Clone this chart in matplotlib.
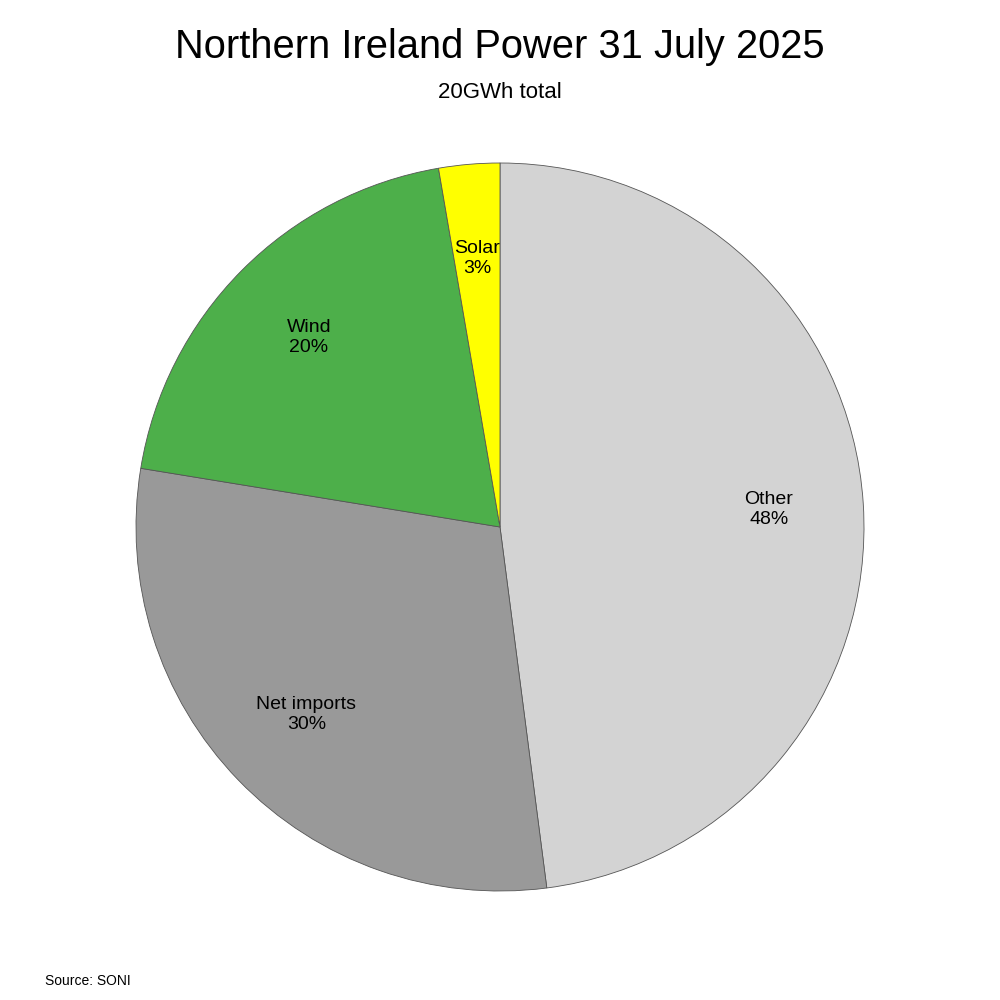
import matplotlib.pyplot as plt
import numpy as np

plt.rcParams['font.family'] = ['Liberation Sans', 'DejaVu Sans']

# shares of the day's supply (clockwise from the top)
sources = ["Other", "Net imports", "Wind", "Solar"]
shares = [47.9, 29.6, 19.7, 2.7]
colours = ["#d3d3d3", "#999999", "#4daf4a", "#ffff00"]

fig = plt.figure(figsize=(10, 10), dpi=100)
ax = fig.add_axes([0.136, 0.109, 0.728, 0.728])

wedges, _ = ax.pie(shares, colors=colours, startangle=90, counterclock=False,
                   wedgeprops=dict(edgecolor="#555555", linewidth=0.6))
ax.set_xlim(-1, 1)
ax.set_ylim(-1, 1)
ax.set_aspect("equal")

total = sum(shares)
for w, nombre, valor in zip(wedges, sources, shares):
    mid = np.deg2rad((w.theta1 + w.theta2) / 2)
    r = 0.74
    ax.text(r * np.cos(mid), r * np.sin(mid),
            f"{nombre}\n{valor / total * 100:.0f}%",
            ha="center", va="center", fontsize=14, linespacing=1.2)

fig.text(0.5, 0.953, "Northern Ireland Power 31 July 2025", ha="center", va="center", fontsize=28.7)
fig.text(0.5, 0.907, "20GWh total", ha="center", va="center", fontsize=16)
fig.text(0.045, 0.019, "Source: SONI", ha="left", va="center", fontsize=10)

fig.savefig("out.png", dpi=100, facecolor="white")
